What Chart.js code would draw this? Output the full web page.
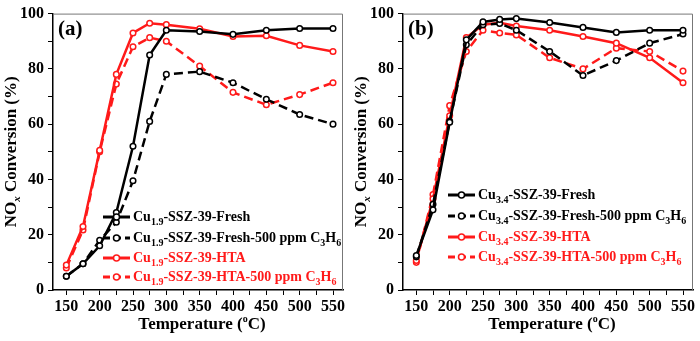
<!DOCTYPE html>
<html>
<head>
<meta charset="utf-8">
<script src="https://cdn.jsdelivr.net/npm/chart.js@4.4.1/dist/chart.umd.min.js"></script>
<style>
  html, body { margin: 0; padding: 0; background: #fff; }
  .panel { position: absolute; top: 0; width: 350px; height: 341px; }
</style>
</head>
<body>
<div class="panel" style="left:0"><canvas id="chartA" width="350" height="341"></canvas></div>
<div class="panel" style="left:350px"><canvas id="chartB" width="350" height="341"></canvas></div>
<script>
// temperatures (°C)
const temps = [150, 175, 200, 225, 250, 275, 300, 350, 400, 450, 500, 550];
const xTicks = [150, 200, 250, 300, 350, 400, 450, 500, 550];
const yTicks = [0, 20, 40, 60, 80, 100];

// (a) Cu1.9-SSZ-39
const aFresh      = [5, 9.5, 16, 28, 52, 85, 94, 93.5, 92.5, 94, 94.6, 94.6];
const aFreshC3H6  = [5, 9.5, 18, 24.5, 39.5, 61, 78, 79, 75, 69, 63.5, 60];
const aHTA        = [9, 23, 50.5, 78, 93, 96.5, 96, 94.5, 91.7, 92, 88.5, 86.3];
const aHTAC3H6    = [8, 21.7, 50, 74.5, 88, 91.3, 90, 81, 71.5, 67, 70.7, 75];

// (b) Cu3.4-SSZ-39
const bFresh      = [12.5, 29, 60.7, 90.5, 97, 97.9, 98.2, 96.8, 95, 93.2, 94, 94];
const bFreshC3H6  = [12, 31, 61, 88.7, 96, 96.4, 94, 86.3, 77.6, 83, 89.3, 92.6];
const bHTA        = [10.7, 33, 63, 91.3, 96, 96.7, 95.5, 94, 91.7, 89.3, 84, 75];
const bHTAC3H6    = [10, 34.5, 66.7, 86.3, 94, 93, 92.3, 84, 80, 87.5, 86.3, 79.2];

const serif = '"Liberation Serif", "Times New Roman", serif';
const BLACK = '#000000';
const RED = '#ff1a1a';
const DASH = [9, 5];

function pts(vals) { return temps.map((t, i) => ({ x: t, y: vals[i] })); }

function ds(label, vals, color, dashed) {
    return {
        label: label,
        data: pts(vals),
        borderColor: color,
        backgroundColor: '#ffffff',
        borderWidth: 2.5,
        borderDash: dashed ? DASH : [],
        pointRadius: 2.8,
        pointBorderWidth: 1.5,
        pointBorderColor: color,
        pointBackgroundColor: '#ffffff',
        tension: 0,
        fill: false,
    };
}

// text runs: [text, 'n' normal | 's' subscript]
function legendRuns(cu, tail, c3h6) {
    const r = [['Cu', 'n'], [cu, 's'], [tail, 'n']];
    if (c3h6) r.push([' C', 'n'], ['3', 's'], ['H', 'n'], ['6', 's']);
    return r;
}

function drawRuns(ctx, x, y, runs, color) {
    ctx.fillStyle = color;
    ctx.textBaseline = 'middle';
    ctx.textAlign = 'left';
    runs.forEach(([t, k]) => {
        if (k === 's') {
            ctx.font = 'bold 10px ' + serif;
            ctx.fillText(t, x, y + 5);
        } else {
            ctx.font = 'bold 14px ' + serif;
            ctx.fillText(t, x, y);
        }
        x += ctx.measureText(t).width;
    });
}

const decorPlugin = {
    id: 'decor',
    afterDraw(chart, args, opts) {
        const ctx = chart.ctx;
        const a = chart.chartArea;
        ctx.save();
        // frame top/right
        ctx.strokeStyle = '#777';
        ctx.lineWidth = 1;
        ctx.beginPath();
        ctx.moveTo(a.left, a.top + 0.5);
        ctx.lineTo(a.right - 0.5, a.top + 0.5);
        ctx.lineTo(a.right - 0.5, a.bottom);
        ctx.stroke();

        // panel letter
        ctx.fillStyle = '#000';
        ctx.font = 'bold 21px ' + serif;
        ctx.textBaseline = 'middle';
        ctx.textAlign = 'left';
        ctx.fillText(opts.letter, a.left + 5, a.top + 16);

        // x title
        ctx.font = 'bold 17px ' + serif;
        ctx.textAlign = 'left';
        const t1 = 'Temperature (', t2 = 'o', t3 = 'C)';
        const w1 = ctx.measureText(t1).width;
        const w3 = ctx.measureText(t3).width;
        ctx.font = 'bold 10px ' + serif;
        const w2 = ctx.measureText(t2).width;
        let x = (a.left + a.right) / 2 - (w1 + w2 + w3) / 2 + 4;
        const ty = 325;
        ctx.font = 'bold 17px ' + serif;
        ctx.fillText(t1, x, ty); x += w1;
        ctx.font = 'bold 10px ' + serif;
        ctx.fillText(t2, x, ty - 6); x += w2;
        ctx.font = 'bold 17px ' + serif;
        ctx.fillText(t3, x, ty);

        // y title (rotated)
        ctx.translate(12, (a.top + a.bottom) / 2);
        ctx.rotate(-Math.PI / 2);
        const y1 = 'NO', y2 = 'x', y3 = ' Conversion (%)';
        ctx.font = 'bold 17px ' + serif;
        const v1 = ctx.measureText(y1).width, v3 = ctx.measureText(y3).width;
        ctx.font = 'italic bold 11px ' + serif;
        const v2 = ctx.measureText(y2).width;
        let yx = -(v1 + v2 + v3) / 2;
        ctx.font = 'bold 17px ' + serif;
        ctx.fillText(y1, yx, 0); yx += v1;
        ctx.font = 'italic bold 11px ' + serif;
        ctx.fillText(y2, yx, 5); yx += v2;
        ctx.font = 'bold 17px ' + serif;
        ctx.fillText(y3, yx, 0);
        ctx.setTransform(1, 0, 0, 1, 0, 0);

        // legend
        const L = opts.legend;
        chart.data.datasets.forEach((d, i) => {
            const ly = L.rows[i];
            ctx.strokeStyle = d.borderColor;
            ctx.lineWidth = 3;
            ctx.setLineDash(d.borderDash.length ? [7, 4] : []);
            ctx.beginPath();
            ctx.moveTo(L.x, ly);
            ctx.lineTo(L.x + 27, ly);
            ctx.stroke();
            ctx.setLineDash([]);
            ctx.lineWidth = 1.5;
            ctx.fillStyle = '#fff';
            ctx.beginPath();
            ctx.arc(L.x + 13.5, ly, 3, 0, Math.PI * 2);
            ctx.fill();
            ctx.stroke();
            drawRuns(ctx, L.x + 30, ly, L.labels[i], d.borderColor);
        });
        ctx.restore();
    }
};

function makeChart(id, series, letter, legend) {
    return new Chart(document.getElementById(id).getContext('2d'), {
        type: 'line',
        data: { datasets: series },
        options: {
            responsive: false,
            animation: false,
            layout: { padding: { top: 10, right: 7, left: 0, bottom: 0 } },
            plugins: {
                legend: { display: false },
                tooltip: { enabled: false },
                decor: { letter: letter, legend: legend },
            },
            scales: {
                x: {
                    type: 'linear',
                    min: 130,
                    max: 565,
                    afterBuildTicks: (s) => {
                        const t = [];
                        for (let v = 150; v <= 550; v += 25) t.push({ value: v });
                        s.ticks = t;
                    },
                    afterFit: (s) => { s.height = 51; },
                    grid: { drawOnChartArea: false, drawTicks: true, tickLength: 5, color: '#000', tickWidth: 1 },
                    border: { color: '#000', width: 1.5 },
                    ticks: {
                        autoSkip: false,
                        maxRotation: 0,
                        padding: 2,
                        color: '#000',
                        font: { family: serif, size: 16, weight: 'bold' },
                        callback: (v) => (xTicks.includes(v) ? String(v) : ''),
                    },
                },
                y: {
                    min: 0,
                    max: 100,
                    afterBuildTicks: (s) => {
                        const t = [];
                        for (let v = 0; v <= 100; v += 10) t.push({ value: v });
                        s.ticks = t;
                    },
                    afterFit: (s) => { s.width = 53; },
                    grid: { drawOnChartArea: false, drawTicks: true, tickLength: 5, color: '#000', tickWidth: 1 },
                    border: { color: '#000', width: 1.5 },
                    ticks: {
                        autoSkip: false,
                        padding: 4,
                        color: '#000',
                        font: { family: serif, size: 16, weight: 'bold' },
                        callback: (v) => (yTicks.includes(v) ? String(v) : ''),
                    },
                },
            },
        },
        plugins: [decorPlugin],
    });
}

makeChart('chartA', [
    ds('Cu1.9-SSZ-39-Fresh', aFresh, BLACK, false),
    ds('Cu1.9-SSZ-39-Fresh-500 ppm C3H6', aFreshC3H6, BLACK, true),
    ds('Cu1.9-SSZ-39-HTA', aHTA, RED, false),
    ds('Cu1.9-SSZ-39-HTA-500 ppm C3H6', aHTAC3H6, RED, true),
], '(a)', {
    x: 103,
    rows: [217, 238, 258, 277],
    labels: [
        legendRuns('1.9', '-SSZ-39-Fresh', false),
        legendRuns('1.9', '-SSZ-39-Fresh-500 ppm', true),
        legendRuns('1.9', '-SSZ-39-HTA', false),
        legendRuns('1.9', '-SSZ-39-HTA-500 ppm', true),
    ],
});

makeChart('chartB', [
    ds('Cu3.4-SSZ-39-Fresh', bFresh, BLACK, false),
    ds('Cu3.4-SSZ-39-Fresh-500 ppm C3H6', bFreshC3H6, BLACK, true),
    ds('Cu3.4-SSZ-39-HTA', bHTA, RED, false),
    ds('Cu3.4-SSZ-39-HTA-500 ppm C3H6', bHTAC3H6, RED, true),
], '(b)', {
    x: 98,
    rows: [195, 216, 237, 257],
    labels: [
        legendRuns('3.4', '-SSZ-39-Fresh', false),
        legendRuns('3.4', '-SSZ-39-Fresh-500 ppm', true),
        legendRuns('3.4', '-SSZ-39-HTA', false),
        legendRuns('3.4', '-SSZ-39-HTA-500 ppm', true),
    ],
});
</script>
</body>
</html>
